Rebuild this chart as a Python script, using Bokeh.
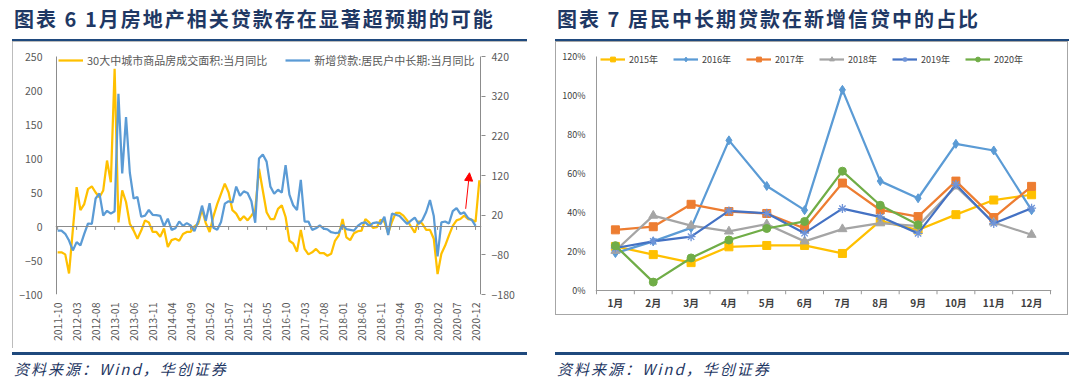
import pandas as pd
from math import pi
from bokeh.plotting import figure
from bokeh.models import (Range1d, LinearAxis, FixedTicker, Span, Legend, LegendItem, Div, Spacer,
                          Arrow, NormalHead, NumeralTickFormatter)
from bokeh.layouts import row, column
from bokeh.embed import file_html
from bokeh.resources import INLINE

# ---------------- data: left chart ----------------
months = [p.strftime("%Y-%m") for p in pd.period_range("2011-10", "2021-01", freq="M")]

housing_yoy = [-38, -38, -41, -69, -5, 58, 24, 33, 55, 59,
               50, 43, 53, 97, 65, 232, 6, 53, 36, 4,
               -6, -18, -6, 9, 6, -8, -8, -15, -3, -30,
               -20, -18, -21, -11, -8, -8, 0, 4, 25, 5,
               -8, 15, 33, 48, 63, 50, 24, 19, 9, 15,
               9, 16, 24, 85, 53, 21, 11, 11, 26, 31,
               14, -21, -25, -37, -5, -33, -41, -38, -33, -39,
               -39, -43, -40, -21, -13, 11, -16, -20, -10, -7,
               -6, 11, 6, -2, -1, 10, 7, -10, 7, 20,
               20, 16, 9, 0, -9, 8, 4, -5, -5, -18,
               -70, -40, -28, -13, 1, 9, 11, 16, 11, 10,
               7, 68]

loan_yoy = [-19, -19, -27, -44, -69, -48, -56, -27, -1, -2,
            62, 75, 19, 31, 24, 30, 326, 125, 267, 127,
            62, 66, 16, 19, 33, 21, 20, 18, -8, 11,
            -17, -13, 4, -7, 0, -6, -20, 5, 44, 6,
            50, -12, -17, 3, 49, 55, 52, 92, 69, 80,
            76, 55, 1, 163, 173, 155, 92, 74, 84, 77,
            146, 72, 45, 33, 109, 4, 4, -17, -13, -6,
            -14, -16, -23, -25, -24, -5, -15, -17, -19, -7,
            0, 2, -7, 0, 2, -2, 16, -30, 24, 21,
            18, 8, -2, 6, 14, -2, 8, 28, 58, 18,
            -84, 2, 4, -1, 30, 38, 23, 27, 13, 8,
            -7]

left_x_ticks = list(range(0, 111, 5))
left_y_ticks = [-100, -50, 0, 50, 100, 150, 200, 250]
right_y_ticks = [-180, -80, 20, 120, 220, 320, 420]
left_names = ["30大中城市商品房成交面积:当月同比", "新增贷款:居民户中长期:当月同比"]

# ---------------- data: right chart ----------------
month_cats = ["1月", "2月", "3月", "4月", "5月", "6月", "7月", "8月", "9月", "10月", "11月", "12月"]
share_2015 = [0.226, 0.184, 0.143, 0.224, 0.231, 0.231, 0.190, 0.357, 0.310, 0.389, 0.464, 0.491]
share_2016 = [0.192, 0.252, 0.321, 0.770, 0.536, 0.412, 1.029, 0.561, 0.473, 0.752, 0.718, 0.412]
share_2017 = [0.311, 0.327, 0.442, 0.405, 0.395, 0.318, 0.551, 0.413, 0.379, 0.561, 0.374, 0.534]
share_2018 = [0.204, 0.384, 0.333, 0.303, 0.340, 0.252, 0.315, 0.345, 0.330, 0.534, 0.349, 0.286]
share_2019 = [0.218, 0.252, 0.276, 0.408, 0.396, 0.294, 0.420, 0.378, 0.293, 0.544, 0.344, 0.422]
share_2020 = [0.230, 0.043, 0.167, 0.259, 0.318, 0.354, 0.612, 0.437, 0.337]
year_names = ["2015年", "2016年", "2017年", "2018年", "2019年", "2020年"]
right_y_ticks_pct = [0, 0.2, 0.4, 0.6, 0.8, 1.0, 1.2]

title_left = "图表 6 1月房地产相关贷款存在显著超预期的可能"
title_right = "图表 7 居民中长期贷款在新增信贷中的占比"
source_text = "资料来源：Wind，华创证券"

FONT = "Noto Sans CJK SC"
TITLE_C = "#1F3864"
RULE_C = "#1F497D"
FRAME_C = "#A6A6A6"
AXIS_C = "#8C8C8C"


def header(width, title, text_left, rule_left, rule_w):
    html = (
        f'<div style="position:relative;width:{width}px;height:41px;overflow:hidden;">'
        f'<div style="position:absolute;left:{text_left}px;top:8px;font-family:\'Noto Sans CJK SC\';'
        f'font-weight:bold;font-size:20px;line-height:22px;letter-spacing:2px;color:{TITLE_C};'
        f'white-space:nowrap;">{title}</div>'
        f'<div style="position:absolute;left:{rule_left}px;top:38.5px;width:{rule_w}px;height:2.7px;'
        f'background:{RULE_C};"></div></div>'
    )
    return Div(text=html, width=width, height=41, margin=0)


def footer(width, text_left, rule_left, rule_w):
    html = (
        f'<div style="position:relative;width:{width}px;height:36px;overflow:hidden;">'
        f'<div style="position:absolute;left:{rule_left}px;top:4px;width:{rule_w}px;height:2.7px;'
        f'background:{RULE_C};"></div>'
        f'<div style="position:absolute;left:{text_left}px;top:12px;font-family:\'Noto Sans CJK SC\';'
        f'font-style:italic;font-size:15px;line-height:17px;letter-spacing:2px;color:{TITLE_C};'
        f'white-space:nowrap;">{source_text}</div></div>'
    )
    return Div(text=html, width=width, height=36, margin=0)


# ================= left figure (page x 12..527, y 41..348) =================
# frame: page x 55..481, y 49..294 (250 sits at y 56, -100 at y 294)
LPX = 424 / 111.6          # px per month
LPY = 238 / 350            # px per unit on the left axis
RPY = 238 / 600            # px per unit on the right axis
p1 = figure(width=515, height=307,
            x_range=Range1d(-0.3 - 1 / LPX, 111.3 + 1 / LPX),
            y_range=Range1d(-100, 250 + 7 / LPY),
            toolbar_location=None, output_backend="svg",
            min_border_left=43, min_border_right=46, min_border_top=8, min_border_bottom=54)
p1.title.visible = False
p1.extra_y_ranges = {"r": Range1d(-180, 420 + 7 / RPY)}
p1.xgrid.visible = False
p1.ygrid.visible = False
p1.outline_line_color = None
p1.styles = {"outline": "1px solid " + FRAME_C, "outline-offset": "-1px"}

xa = p1.xaxis[0]
xa.ticker = FixedTicker(ticks=left_x_ticks)
xa.major_label_overrides = {i: months[i] for i in left_x_ticks}
xa.major_label_orientation = pi / 2
xa.axis_line_color = None
xa.major_tick_line_color = None
xa.major_tick_out = 0
xa.major_tick_in = 0
xa.minor_tick_line_color = None
xa.major_label_standoff = 8
xa.major_label_text_font = FONT
xa.major_label_text_font_size = "10.5px"
xa.major_label_text_color = "#595959"

ya = p1.yaxis[0]
ya.ticker = FixedTicker(ticks=left_y_ticks)
ya.axis_line_color = None
ya.major_tick_out = 0
ya.major_tick_in = 0
ya.minor_tick_line_color = None
ya.major_label_standoff = 13
ya.major_label_text_font = FONT
ya.major_label_text_font_size = "10.5px"
ya.major_label_text_color = "#595959"

ra = LinearAxis(y_range_name="r", ticker=FixedTicker(ticks=right_y_ticks))
ra.axis_line_color = None
ra.major_tick_line_color = AXIS_C
ra.major_tick_out = 4
ra.major_tick_in = 0
ra.minor_tick_line_color = None
ra.major_label_standoff = 6
ra.major_label_text_font = FONT
ra.major_label_text_font_size = "10.5px"
ra.major_label_text_color = "#595959"
p1.add_layout(ra, "right")

# value-axis lines (from bottom tick to top tick) and the category axis line at zero
p1.segment(x0=[-0.3, 111.3], y0=[left_y_ticks[0]] * 2, x1=[-0.3, 111.3], y1=[left_y_ticks[-1]] * 2,
           line_color=AXIS_C, line_width=1)
p1.add_layout(Span(location=0, dimension="width", line_color=AXIS_C, line_width=1))
p1.segment(x0=left_x_ticks, y0=[0] * len(left_x_ticks), x1=left_x_ticks, y1=[-5] * len(left_x_ticks),
           line_color=AXIS_C, line_width=1)

r_h = p1.line(x=list(range(len(housing_yoy))), y=housing_yoy, line_color="#FFC000", line_width=2.25)
r_l = p1.line(x=list(range(len(loan_yoy))), y=loan_yoy, y_range_name="r", line_color="#5B9BD5", line_width=2.25)

p1.add_layout(Arrow(end=NormalHead(size=8, fill_color="red", line_color="red"),
                    x_start=107.4, y_start=26, x_end=108.4, y_end=79,
                    line_color="red", line_width=1))

leg1 = Legend(items=[LegendItem(label=left_names[0], renderers=[r_h]),
                     LegendItem(label=left_names[1], renderers=[r_l])],
              orientation="horizontal", location=(3, 226), padding=0, margin=0, spacing=18,
              glyph_width=25, glyph_height=12, label_height=12, label_standoff=4,
              label_text_font=FONT, label_text_font_size="11px", label_text_color="#595959",
              border_line_color=None, background_fill_alpha=0)
p1.add_layout(leg1)

# ================= right figure (page x 555..1068, y 41..348; drawn box 41..315) =================
RIGHT_BOX = ("linear-gradient({c},{c}) 0 0/513px 1px no-repeat, "
             "linear-gradient({c},{c}) 0 273px/513px 1px no-repeat, "
             "linear-gradient({c},{c}) 0 0/1px 274px no-repeat, "
             "linear-gradient({c},{c}) 512px 0/1px 274px no-repeat, #ffffff").format(c=FRAME_C)

# frame: page x 595..1051, y 49..294; 0% at y 290, 120% at y 56, 1月..12月 over x 596..1050
RPX = 454 / 12
RPP = 1.2 / 234
p2 = figure(width=513, height=307,
            x_range=Range1d(0.5 - 1 / RPX, 12.5 + 1 / RPX),
            y_range=Range1d(-4 * RPP, 1.2 + 7 * RPP),
            toolbar_location=None, output_backend="svg",
            min_border_left=40, min_border_right=17, min_border_top=8, min_border_bottom=54)
p2.title.visible = False
p2.xgrid.visible = False
p2.ygrid.visible = False
p2.outline_line_color = None
p2.border_fill_color = None
p2.styles = {"background": RIGHT_BOX}

xb = p2.xaxis[0]
xb.ticker = FixedTicker(ticks=list(range(1, 13)))
xb.major_label_overrides = {i + 1: month_cats[i] for i in range(12)}
xb.axis_line_color = None
xb.major_tick_line_color = None
xb.major_tick_out = 0
xb.major_tick_in = 0
xb.minor_tick_line_color = None
xb.major_label_standoff = 0
xb.major_label_text_font = FONT
xb.major_label_text_font_size = "10px"
xb.major_label_text_font_style = "bold"
xb.major_label_text_color = "#404040"

yb = p2.yaxis[0]
yb.ticker = FixedTicker(ticks=right_y_ticks_pct)
yb.formatter = NumeralTickFormatter(format="0%")
yb.axis_line_color = None
yb.major_tick_out = 0
yb.major_tick_in = 0
yb.minor_tick_line_color = None
yb.major_label_standoff = 10
yb.major_label_text_font = FONT
yb.major_label_text_font_size = "9px"
yb.major_label_text_color = "#404040"

# value-axis line, category axis line at 0% and boundary tick marks
p2.segment(x0=[0.5], y0=[-4 * RPP], x1=[0.5], y1=[right_y_ticks_pct[-1]], line_color="#999999", line_width=1)
p2.add_layout(Span(location=0, dimension="width", line_color="#999999", line_width=1))
bounds = [k + 0.5 for k in range(1, 13)]
p2.segment(x0=bounds, y0=[0] * len(bounds), x1=bounds, y1=[-4 * RPP] * len(bounds),
           line_color="#999999", line_width=1)

series = [
    (share_2015, "#FFC000", "square", 8, 1),
    (share_2016, "#5B9BD5", "diamond", 9, 1),
    (share_2017, "#ED7D31", "square", 8, 1),
    (share_2018, "#A5A5A5", "triangle", 9, 1),
    (share_2019, "#4472C4", "asterisk", 9, 1.3),
    (share_2020, "#70AD47", "circle", 8, 1),
]
items = []
for name, (vals, col, mk, sz, lw) in zip(year_names, series):
    xs = list(range(1, len(vals) + 1))
    rl = p2.line(x=xs, y=vals, line_color=col, line_width=2.25)
    if mk == "asterisk":
        rs = p2.scatter(x=xs, y=vals, marker=mk, size=sz, line_color="#6F94D8", line_width=lw)
    else:
        rs = p2.scatter(x=xs, y=vals, marker=mk, size=sz, fill_color=col, line_color=col)
    items.append(LegendItem(label=name, renderers=[rl, rs]))

leg2 = Legend(items=items, orientation="horizontal", location=(5, 228.5), padding=0, margin=0, spacing=15,
              glyph_width=25, glyph_height=12, label_height=12, label_standoff=4,
              label_text_font=FONT, label_text_font_size="9px", label_text_color="#404040",
              border_line_color=None, background_fill_alpha=0)
p2.add_layout(leg2)

# ================= page layout =================
top_row = row(header(547, title_left, 14, 12, 515), header(528, title_right, 10, 8, 514), spacing=0)
mid_row = row(Spacer(width=12, height=307), p1, Spacer(width=28, height=307), p2, spacing=0)
bot_row = row(footer(547, 14, 12, 515), footer(528, 10, 8, 514), spacing=0)
layout = column(top_row, mid_row, bot_row, spacing=0)

open("out.html", "w").write(file_html(layout, INLINE))
